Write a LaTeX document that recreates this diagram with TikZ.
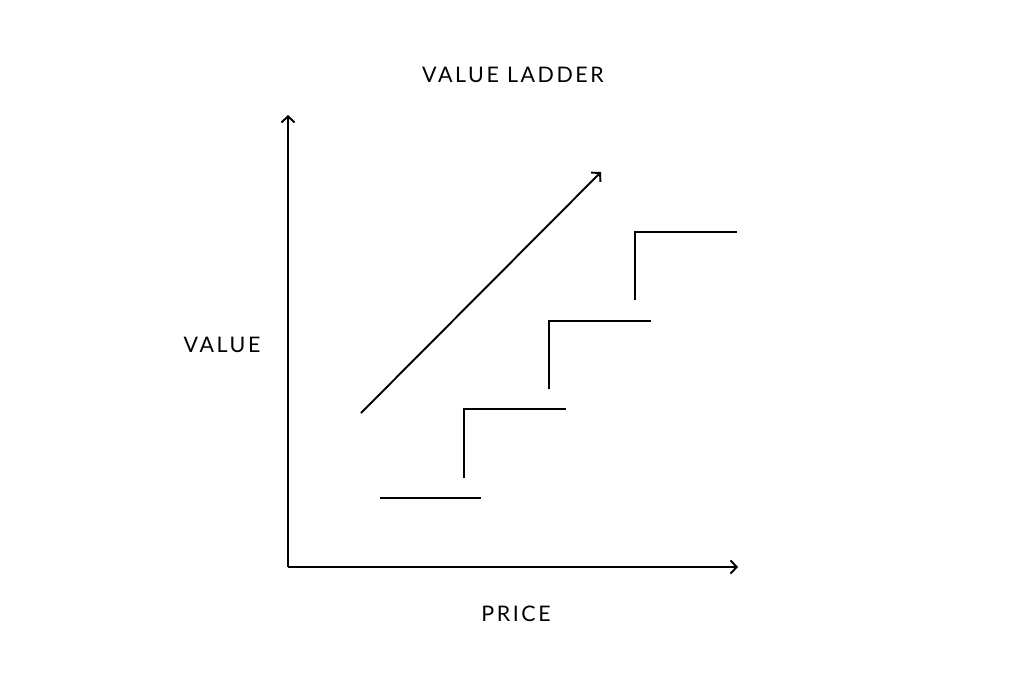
\documentclass[tikz,border=0pt]{standalone}
\usepackage{fontspec}
\setmainfont{Lato}[LetterSpace=12]
\usetikzlibrary{arrows.meta}
\begin{document}
\begin{tikzpicture}[x=0.02cm,y=-0.02cm,color=black,>={Straight Barb[length=3.5pt,width=7.5pt]},every path/.append style={line width=1.1pt},lbl/.style={font=\fontsize{12.2}{14}\selectfont,inner sep=0pt}]
\useasboundingbox (0,0) rectangle (1024,683);
\coordinate(O) at (288,567);
\coordinate(YT) at (288,115);
\coordinate(XR) at (738,567);
\coordinate(DA) at (361,413);
\coordinate(DB) at (601,172);
\draw[->] (O) -- (YT);
\draw[->] (O) -- (XR);
\draw[->] (DA) -- (DB);

\coordinate(S0L) at (380,498);
\coordinate(S0R) at (481,498);
\draw (S0L) -- (S0R);
\coordinate(S1B) at (464,478);
\coordinate(S1T) at (464,409);
\coordinate(S1R) at (566,409);
\draw (S1B) -- (S1T) -- (S1R);
\coordinate(S2B) at (549,389);
\coordinate(S2T) at (549,321);
\coordinate(S2R) at (651,321);
\draw (S2B) -- (S2T) -- (S2R);
\coordinate(S3B) at (635,300);
\coordinate(S3T) at (635,232);
\coordinate(S3R) at (737,232);
\draw (S3B) -- (S3T) -- (S3R);

\node(title) [lbl] at (513,75) {VALUE LADDER};
\node(yl) [lbl] at (222,345) {VALUE};
\node(xl) [lbl] at (516,614) {PRICE};
\end{tikzpicture}
\end{document}
